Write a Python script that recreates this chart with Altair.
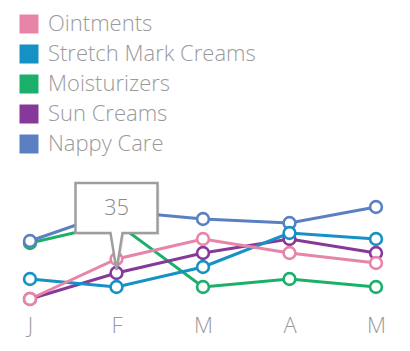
import altair as alt
import pandas as pd

months = ["Jan", "Feb", "Mar", "Apr", "May"]
series_names = ["Ointments", "Stretch Mark Creams", "Moisturizers", "Sun Creams", "Nappy Care"]
colors = ["#e984a9", "#1591c5", "#1ab06a", "#87399a", "#5b80c2"]

ointments = [22, 42, 52, 45, 40]
stretch_mark_creams = [32, 28, 38, 55, 52]
moisturizers = [50, 60, 28, 32, 28]
sun_creams = [22, 35, 45, 52, 45]
nappy_care = [51, 66, 62, 60, 68]

values = {
    "Ointments": ointments,
    "Stretch Mark Creams": stretch_mark_creams,
    "Moisturizers": moisturizers,
    "Sun Creams": sun_creams,
    "Nappy Care": nappy_care,
}

# drawing order (bottom to top)
draw_order = ["Moisturizers", "Nappy Care", "Sun Creams", "Stretch Mark Creams", "Ointments"]
rows = []
for i, s in enumerate(draw_order):
    for m, v in zip(months, values[s]):
        rows.append({"month": m, "series": s, "value": v, "z": i})
df = pd.DataFrame(rows)

tip = pd.DataFrame([{"month": "Feb", "value": sun_creams[1], "label": str(sun_creams[1])}])

FONT = "Open Sans"
GREY = "#9a9a9a"
x_enc = alt.X("month:N", sort=months, scale=alt.Scale(type="point", padding=0),
              axis=alt.Axis(title=None, domain=False, ticks=False, grid=False,
                            labelExpr="substring(datum.label, 0, 1)", labelAngle=0,
                            labelFontSize=22, labelColor=GREY, labelFont=FONT,
                            labelFontWeight=300, labelPadding=5))
y_enc = alt.Y("value:Q", scale=alt.Scale(domain=[16.5, 76.5], zero=False, nice=False), axis=None)
cscale = alt.Scale(domain=series_names, range=colors)

lines = alt.Chart(df).mark_line(strokeWidth=3).encode(
    x=x_enc, y=y_enc, color=alt.Color("series:N", scale=cscale, legend=None),
    detail="series:N", order="z:Q")
points = alt.Chart(df).mark_point(filled=True, fill="white", size=140, strokeWidth=2.6, opacity=1).encode(
    x=x_enc, y=y_enc, stroke=alt.Stroke("series:N", scale=cscale, legend=None),
    order="z:Q")
legend_layer = alt.Chart(df).mark_square(opacity=0, size=1).encode(
    x=x_enc, y=y_enc,
    fill=alt.Fill("series:N", scale=cscale,
                  legend=alt.Legend(title=None, orient="none", legendX=-12, legendY=-177,
                                    symbolType="square", symbolSize=361, symbolStrokeWidth=0,
                                    symbolOpacity=1, labelFontSize=22, labelColor=GREY,
                                    labelFont=FONT, labelFontWeight=300, labelOffset=8,
                                    rowPadding=8, padding=0, labelLimit=400)))

callout_path = "M-41,-90 L41,-90 L41,-40 L6,-40 L0,-3 L-6,-40 L-41,-40 Z"
shadow = alt.Chart(tip).mark_point(shape=callout_path, size=4, filled=True, fill="#000000",
                                   fillOpacity=0.08, strokeWidth=0, xOffset=2, yOffset=2).encode(x=x_enc, y=y_enc)
callout = alt.Chart(tip).mark_point(shape=callout_path, size=4, filled=True, fill="white",
                                    stroke="#9e9e9e", strokeWidth=2.5, opacity=1).encode(x=x_enc, y=y_enc)
label = alt.Chart(tip).mark_text(dy=-65, fontSize=22, color="#8a8a8a", font=FONT, fontWeight=300).encode(
    x=x_enc, y=y_enc, text="label:N")

chart = alt.layer(legend_layer, lines, points, shadow, callout, label).properties(
    width=346, height=120,
    autosize=alt.AutoSizeParams(type="none"),
    padding={"left": 30, "top": 190, "right": 34, "bottom": 41},
    background="white",
).configure_view(stroke=None)

chart.save("out.html", embed_options={"renderer": "svg", "actions": False})
